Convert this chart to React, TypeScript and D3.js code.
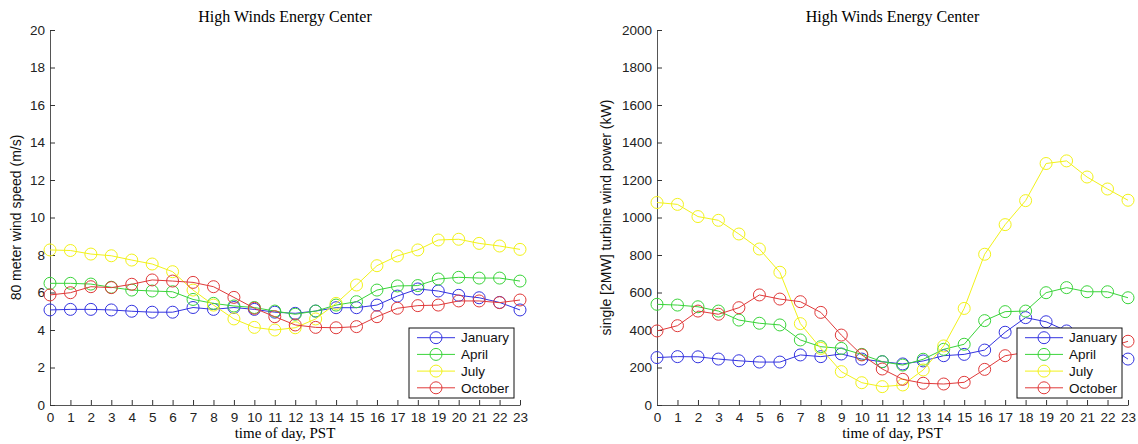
import { useEffect, useRef } from "react";
import * as d3 from "d3";

// hour of day (PST)
const hours = [0, 1, 2, 3, 4, 5, 6, 7, 8, 9, 10, 11, 12, 13, 14, 15, 16, 17, 18, 19, 20, 21, 22, 23];
const months = ["January", "April", "July", "October"];

// 80 m wind speed (m/s)
const speedJan = [5.07, 5.1, 5.1, 5.07, 5.0, 4.95, 4.95, 5.2, 5.1, 5.2, 5.1, 4.95, 4.89, 5.01, 5.19, 5.19, 5.33, 5.81, 6.19, 6.08, 5.85, 5.72, 5.47, 5.07];
const speedApr = [6.49, 6.49, 6.45, 6.28, 6.13, 6.08, 6.04, 5.63, 5.42, 5.28, 5.2, 5.01, 4.84, 5.01, 5.33, 5.51, 6.13, 6.35, 6.37, 6.72, 6.81, 6.77, 6.77, 6.61];
const speedJul = [8.27, 8.24, 8.05, 7.96, 7.73, 7.52, 7.11, 6.13, 5.33, 4.59, 4.14, 4.0, 4.12, 4.59, 5.42, 6.4, 7.43, 7.95, 8.27, 8.8, 8.84, 8.62, 8.48, 8.3];
const speedOct = [5.87, 5.99, 6.31, 6.26, 6.44, 6.67, 6.61, 6.54, 6.31, 5.74, 5.16, 4.71, 4.27, 4.14, 4.12, 4.18, 4.71, 5.16, 5.3, 5.33, 5.55, 5.55, 5.46, 5.6];

// single 2MW turbine power (kW)
const powerJan = [253, 258, 257, 245, 236, 229, 229, 267, 258, 272, 245, 231, 219, 235, 263, 270, 293, 388, 466, 444, 395, 365, 315, 245];
const powerApr = [537, 533, 524, 501, 453, 436, 427, 347, 311, 302, 270, 231, 213, 244, 297, 324, 450, 498, 501, 599, 626, 604, 604, 572];
const powerJul = [1080, 1070, 1005, 985, 912, 832, 708, 434, 302, 178, 119, 98, 107, 187, 315, 515, 804, 962, 1090, 1288, 1302, 1216, 1152, 1092];
const powerOct = [395, 423, 501, 484, 519, 587, 565, 551, 494, 373, 267, 192, 137, 116, 112, 121, 190, 263, 280, 285, 320, 320, 305, 340];

const speedTicks = [0, 2, 4, 6, 8, 10, 12, 14, 16, 18, 20];
const powerTicks = [0, 200, 400, 600, 800, 1000, 1200, 1400, 1600, 1800, 2000];

const colors = ["#3434e0", "#3ad43a", "#f2f21a", "#e03a3a"];

const App = () => {
  const svgRef = useRef(null);

  useEffect(() => {
    const svg = d3.select(svgRef.current);
    svg.selectAll("*").remove();

    const sans = "Liberation Sans, Arial, sans-serif";
    const serif = "Liberation Serif, Times New Roman, serif";

    const drawPanel = (opts) => {
      const { left, right, top, bottom, series, ticks, yMax, yLabel, labelX } = opts;

      const x = d3.scaleLinear().domain([0, 23]).range([left, right]);
      const y = d3.scaleLinear().domain([0, yMax]).range([bottom, top]);

      const g = svg.append("g");

      // title
      g.append("text")
        .attr("x", (left + right) / 2)
        .attr("y", 22)
        .attr("text-anchor", "middle")
        .attr("font-family", serif)
        .attr("font-size", 16)
        .text("High Winds Energy Center");

      // x axis, matlab style (ticks inward)
      const xAxis = g.append("g")
        .attr("transform", `translate(0, ${bottom})`)
        .call(d3.axisBottom(x).tickValues(hours).tickSizeInner(-5).tickSizeOuter(0).tickPadding(7));
      xAxis.selectAll("text").attr("font-family", sans).attr("font-size", 13.5).attr("fill", "#222");

      const yAxis = g.append("g")
        .attr("transform", `translate(${left}, 0)`)
        .call(
          d3.axisLeft(y)
            .tickValues(ticks)
            .tickFormat(d3.format("d"))
            .tickSizeInner(-5)
            .tickSizeOuter(0)
            .tickPadding(5)
        );
      yAxis.selectAll("text").attr("font-family", sans).attr("font-size", 13.5).attr("fill", "#222");

      svg.selectAll(".domain").attr("stroke", "#555");
      svg.selectAll(".tick line").attr("stroke", "#333");

      // axis labels
      g.append("text")
        .attr("x", (left + right) / 2)
        .attr("y", 438)
        .attr("text-anchor", "middle")
        .attr("font-family", serif)
        .attr("font-size", 15)
        .text("time of day, PST");

      g.append("text")
        .attr("transform", `translate(${labelX}, ${(top + bottom) / 2}) rotate(-90)`)
        .attr("text-anchor", "middle")
        .attr("font-family", sans)
        .attr("font-size", 14)
        .attr("fill", "#111")
        .text(yLabel);

      const line = d3.line().x((d, i) => x(hours[i])).y((d) => y(d));

      series.forEach((vals, k) => {
        g.append("path")
          .attr("d", line(vals))
          .attr("fill", "none")
          .attr("stroke", colors[k])
          .attr("stroke-width", 1);
        g.selectAll(null)
          .data(vals)
          .join("circle")
          .attr("cx", (d, i) => x(hours[i]))
          .attr("cy", (d) => y(d))
          .attr("r", 6)
          .attr("fill", "none")
          .attr("stroke", colors[k])
          .attr("stroke-width", 1);
      });

      // legend box, bottom right
      const bw = 105;
      const bh = 70;
      const lg = g.append("g").attr("transform", `translate(${right - 6 - bw}, ${bottom - 7 - bh})`);
      lg.append("rect")
        .attr("width", bw)
        .attr("height", bh)
        .attr("fill", "white")
        .attr("stroke", "#111")
        .attr("stroke-width", 1);
      months.forEach((m, k) => {
        const ry = 9.7 + k * 16.7;
        lg.append("line")
          .attr("x1", 8).attr("x2", 46)
          .attr("y1", ry).attr("y2", ry)
          .attr("stroke", colors[k]);
        lg.append("circle")
          .attr("cx", 27).attr("cy", ry).attr("r", 6)
          .attr("fill", "none").attr("stroke", colors[k]);
        lg.append("text")
          .attr("x", 52)
          .attr("y", ry)
          .attr("dy", "0.35em")
          .attr("font-family", sans)
          .attr("font-size", 13.5)
          .attr("fill", "#111")
          .text(m);
      });
    };

    drawPanel({
      left: 50, right: 520, top: 30, bottom: 405,
      series: [speedJan, speedApr, speedJul, speedOct],
      ticks: speedTicks, yMax: 20,
      yLabel: "80 meter wind speed (m/s)", labelX: 21,
    });

    drawPanel({
      left: 657, right: 1128, top: 30, bottom: 405,
      series: [powerJan, powerApr, powerJul, powerOct],
      ticks: powerTicks, yMax: 2000,
      yLabel: "single [2MW] turbine wind power (kW)", labelX: 611,
    });
  }, []);

  return (
    <svg
      ref={svgRef}
      width={1138}
      height={444}
      style={{ position: "absolute", left: 0, top: 0, background: "white" }}
    />
  );
};

export default App;
